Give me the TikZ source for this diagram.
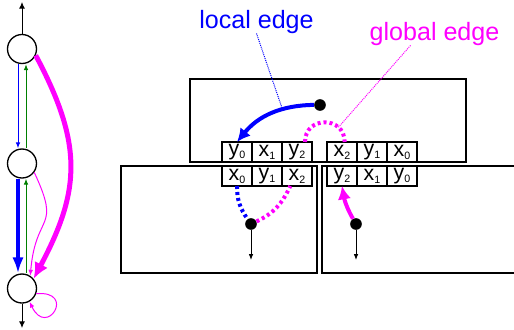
\documentclass[tikz,border=0pt]{standalone}
\usepackage{fontspec}
\setmainfont{Liberation Sans}
\usepackage{tikz}
\usetikzlibrary{positioning, arrows.meta}
\definecolor{localblue}{RGB}{0,0,255}
\definecolor{globalpink}{RGB}{255,0,255}
\definecolor{backgreen}{RGB}{0,128,0}
\newcommand{\ix}[1]{\raisebox{-2.3pt}{\fontsize{8}{8}\selectfont #1}}

\begin{document}
\begin{tikzpicture}[x=0.75pt, y=-0.75pt,
  vert/.style={circle, draw, line width=1pt, minimum size=21.75pt, inner sep=0pt},
  cell/.style={draw, line width=0.9pt, minimum width=22.5pt, minimum height=15pt, inner sep=0pt, outer sep=0pt, font=\fontsize{16}{16}\selectfont},
  dot/.style={circle, fill=black, inner sep=0pt, minimum size=8.75pt},
  thin tip/.style={-{Latex[length=4.5pt,width=3.5pt]}},
  dotted edge/.style={line width=3pt, dash pattern=on 2.25pt off 2.25pt},
  leader/.style={line width=0.75pt, dash pattern=on 0.75pt off 0.75pt},
  lbl/.style={font=\fontsize{18.8}{20}\selectfont, inner sep=0pt, anchor=base}]
\useasboundingbox (0,0) rectangle (514,329);

% left: the graph
\node[vert] (n1) at (22,49) {};
\node[vert] (n2) at (22,163.5) {};
\node[vert] (n3) at (22,288.5) {};
\coordinate (topend) at (22,2);
\coordinate (botend) at (22,328);
\draw[line width=0.75pt, -{Latex[length=5pt,width=4.5pt]}] (n1.north) -- (topend);
\draw[line width=0.75pt, -{Latex[length=5pt,width=4.5pt]}] (n3.south) -- (botend);
\draw[localblue, line width=0.75pt, thin tip] ([xshift=-3pt]n1.south) -- ([xshift=-3pt]n2.north);
\draw[backgreen, line width=0.75pt, thin tip] ([xshift=3pt]n2.north) -- ([xshift=3pt]n1.south);
\draw[localblue, line width=3pt, -{Latex[length=12pt,width=8.5pt]}] ([xshift=-3pt]n2.south) -- ([xshift=-3pt]n3.north);
\draw[backgreen, line width=0.75pt, thin tip] ([xshift=3pt]n3.north) -- ([xshift=3pt]n2.south);
\draw[globalpink, line width=3.75pt, -{Latex[length=12pt,width=11pt]}] (n1.-25) to[out=-62, in=62, looseness=1.15] (n3.40);
\draw[globalpink, line width=0.75pt, thin tip] (n2.-36) to[out=-65, in=85, looseness=1.6] (n3.57);
\draw[globalpink, line width=0.75pt, thin tip] (n3.-20) to[out=5, in=-65, looseness=10] (n3.-60);

% right: the three blocks
\draw[line width=0.9pt] (190,79) rectangle (466,162);
\draw[line width=0.9pt] (121,166) rectangle (317,273);
\draw[line width=0.9pt] (514,166) -- (322,166) -- (322,273) -- (514,273);

\node[cell] (a1) at (237,152) {y\ix0};
\node[cell, right=0pt of a1] (a2) {x\ix1};
\node[cell, right=0pt of a2] (a3) {y\ix2};
\node[cell] (b1) at (342,152) {x\ix2};
\node[cell, right=0pt of b1] (b2) {y\ix1};
\node[cell, right=0pt of b2] (b3) {x\ix0};
\node[cell] (c1) at (237,176) {x\ix0};
\node[cell, right=0pt of c1] (c2) {y\ix1};
\node[cell, right=0pt of c2] (c3) {x\ix2};
\node[cell] (d1) at (342,176) {y\ix2};
\node[cell, right=0pt of d1] (d2) {x\ix1};
\node[cell, right=0pt of d2] (d3) {y\ix0};

\node[dot] (dtop) at (320,105) {};
\node[dot] (dl) at (251,224) {};
\node[dot] (dr) at (356,224) {};
\coordinate (dlend) at (251,260);
\coordinate (drend) at (356,260);
\draw[line width=0.75pt, thin tip] (dl) -- (dlend);
\draw[line width=0.75pt, thin tip] (dr) -- (drend);

% edges
\draw[localblue, line width=3pt, -{Latex[length=10pt,width=10pt]}] (dtop) to[bend right=25] coordinate[pos=0.35] (lochit) (a1.north);
\draw[globalpink, dotted edge] ([xshift=6pt]a3.north) to[out=90, in=90, looseness=1.7] coordinate[pos=0.75] (glohit) ([xshift=2pt]b1.north);
\draw[localblue, dotted edge] (c1.south) to[out=-90, in=125] (dl);
\draw[globalpink, dotted edge] (dl) to[out=25, in=-115] ([xshift=-5pt]c3.south);
\draw[globalpink, line width=3pt, -{Latex[length=10pt,width=10pt]}] (dr) to[out=120, in=-80] (d1.south);

% labels
\node[lbl, text=localblue] (loclab) at (256.5,28) {local edge};
\node[lbl, text=globalpink] (glolab) at (434.5,40) {global edge};
\draw[localblue, leader] (loclab.south) -- (lochit);
\draw[globalpink, leader] ([xshift=-18pt]glolab.south) -- (glohit);
\end{tikzpicture}
\end{document}
